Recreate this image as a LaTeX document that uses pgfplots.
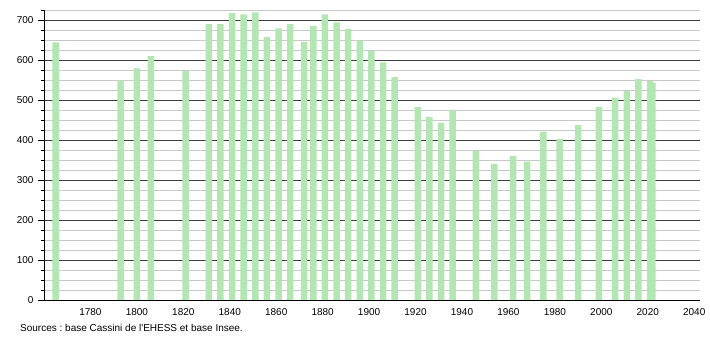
\documentclass[border=0pt]{standalone}
\usepackage{fontspec}
\setmainfont{Liberation Sans}
\usepackage{pgfplots}
\pgfplotsset{compat=1.18}
\definecolor{barg}{RGB}{179,230,179}
\definecolor{majg}{RGB}{60,60,60}
\definecolor{ming}{RGB}{200,200,200}
\frenchspacing
\begin{document}
\begin{tikzpicture}[x=1pt,y=1pt]
\path[use as bounding box] (0,0) rectangle (710,340);
\begin{axis}[
  at={(44pt,40pt)}, anchor=south west,
  scale only axis, width=656pt, height=290pt,
  xmin=1760, xmax=2042.5, ymin=0, ymax=725,
  axis x line=bottom, axis y line=left,
  axis line style={-, black, line width=0.8pt},
  xtick={1780,1800,...,2040},
  x tick style={draw=none},
  ytick={0,100,...,700},
  minor ytick={25,50,75,125,150,175,225,250,275,325,350,375,425,450,475,525,550,575,625,650,675,725},
  tick align=outside,
  major tick length=6pt, minor tick length=3pt,
  y tick style={black, line width=0.6pt},
  ymajorgrids, yminorgrids,
  major grid style={majg, line width=0.6pt},
  minor grid style={ming, line width=0.6pt},
  tick label style={font=\fontsize{10}{12}\selectfont},
  /pgf/number format/assume math mode=true,
  /pgf/number format/1000 sep={},
  xticklabel style={yshift=1pt},
  yticklabel style={xshift=-1pt},
  clip=false,
]
\addplot[ybar, bar width=6.5pt, fill=barg, draw=none] coordinates {
(1765,644) (1793,549) (1800,579) (1806,610) (1821,573)
(1831,690) (1836,690) (1841,717) (1846,714) (1851,719)
(1856,657) (1861,679) (1866,690) (1872,645) (1876,685)
(1881,714) (1886,694) (1891,677) (1896,648) (1901,622)
(1906,594) (1911,557) (1921,482) (1926,458) (1931,443)
(1936,475) (1946,373) (1954,340) (1962,360) (1968,346)
(1975,421) (1982,402) (1990,437) (1999,483) (2006,506)
(2011,523) (2016,552) (2021,548) (2022,543)
};
\end{axis}
\node[anchor=west, inner sep=0pt, font=\fontsize{10}{12}\selectfont] at (20,12) {Sources : base Cassini de l\textquotesingle EHESS et base Insee.};
\end{tikzpicture}
\end{document}
